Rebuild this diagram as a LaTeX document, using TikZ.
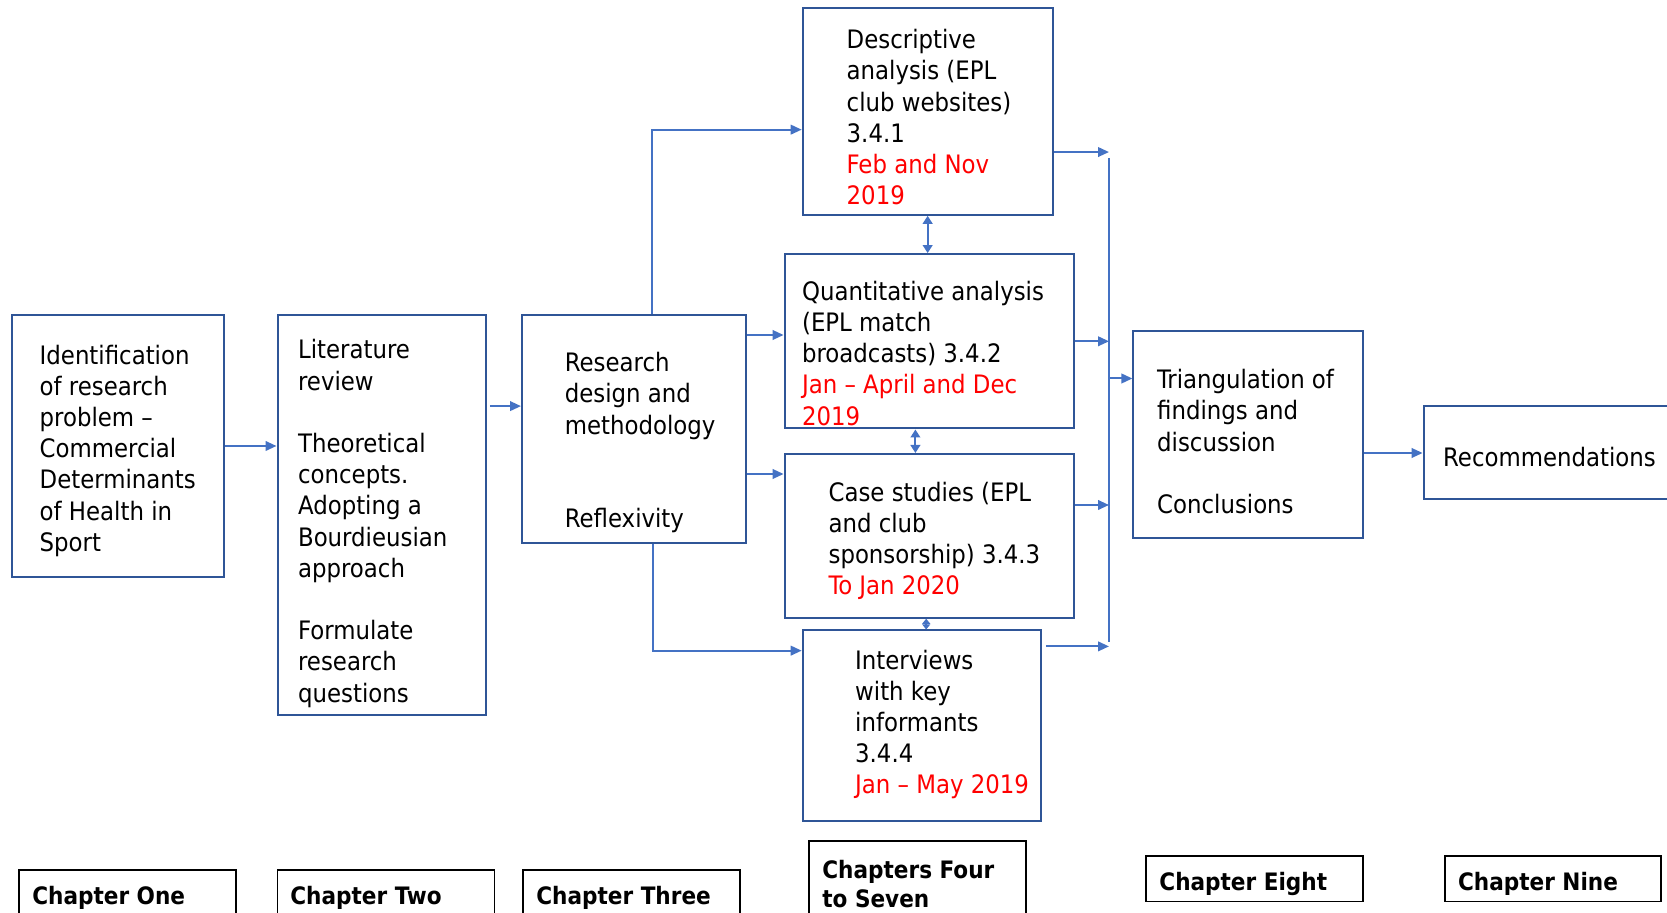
\documentclass[tikz,border=0pt]{standalone}
\usepackage{fontspec}
\setmainfont{DejaVu Sans Condensed}
\usetikzlibrary{arrows.meta,fit,calc}
\definecolor{boxblue}{RGB}{47,85,151}
\definecolor{lineblue}{RGB}{68,114,196}
\definecolor{datered}{RGB}{255,0,0}
\tikzset{
  box/.style={draw=boxblue, line width=1pt, inner sep=0pt},
  chapbox/.style={draw=black, line width=0.9pt, inner sep=0pt},
  txt/.style={anchor=west, align=left, inner sep=0pt, yshift=-1.5pt, font=\fontsize{12.7}{15.6}\selectfont},
  chtxt/.style={anchor=west, align=left, inner sep=0pt, yshift=-2pt, font=\bfseries\fontsize{12}{14.6}\selectfont},
  conn/.style={draw=lineblue, line width=1pt},
  arr/.style={conn, -{Triangle[length=5.5pt,width=4.8pt]}},
  darr/.style={conn, {Triangle[length=4pt,width=4.8pt]}-{Triangle[length=4pt,width=4.8pt]}},
  sdarr/.style={conn, {Triangle[length=2.6pt,width=4pt]}-{Triangle[length=2.6pt,width=4pt]}},
}
\newcommand{\dt}[1]{\textcolor{datered}{#1}}
\begin{document}
\begin{tikzpicture}[x=0.5pt,y=-0.5pt]
\useasboundingbox (0,0) rectangle (1667,913);
% main boxes
\node[box, fit={(11.7,314.7) (224.3,577.3)}] (b1) {};
\node[box, fit={(277.5,314.7) (485.9,715.5)}] (b2) {};
\node[box, fit={(522,314.7) (746.4,543.3)}] (b3) {};
\node[box, fit={(802.7,8.5) (1052.6,214.8)}] (b4) {};
\node[box, fit={(784.6,254.1) (1073.8,428.5)}] (b5) {};
\node[box, fit={(784.6,454) (1073.8,617.7)}] (b6) {};
\node[box, fit={(802.7,630.5) (1040.9,820.8)}] (b7) {};
\node[box, fit={(1133.4,330.7) (1363,538)}] (b8) {};
\node[box, fit={(1423.6,406.1) (1690,498.6)}] (b9) {};
% texts
\node[txt] (t1) at (39.3,447.6) {Identification\\of research\\problem –\\Commercial\\Determinants\\of Health in\\Sport};
\node[txt] (t2) at (297.7,520.4) {Literature\\review\\[15.6pt]Theoretical\\concepts.\\Adopting a\\Bourdieusian\\approach\\[15.6pt]Formulate\\research\\questions};
\node[txt] (t3) at (564.5,439.6) {Research\\design and\\methodology\\[31.2pt]Reflexivity};
\node[txt] (t4) at (846.3,114.3) {Descriptive\\analysis (EPL\\club websites)\\3.4.1\\\dt{Feb and Nov}\\\dt{2019}};
\node[txt] (t5) at (801.7,350.3) {Quantitative analysis\\(EPL match\\broadcasts) 3.4.2\\\dt{Jan – April and Dec}\\\dt{2019}};
\node[txt] (t6) at (828.2,538) {Case studies (EPL\\and club\\sponsorship) 3.4.3\\\dt{To Jan 2020}};
\node[txt] (t7) at (854.8,721.4) {Interviews\\with key\\informants\\3.4.4\\\dt{Jan – May 2019}};
\node[txt] (t8) at (1156.8,438.6) {Triangulation of\\findings and\\discussion\\[15.6pt]Conclusions};
\node[txt] (t9) at (1442.8,454) {Recommendations};
% chapter boxes
\node[chapbox, fit={(19,870) (236,930)}] (c1) {};
\node[chapbox, fit={(277.5,870) (494.4,930)}] (c2) {};
\node[chapbox, fit={(523,870) (740,930)}] (c3) {};
\node[chapbox, fit={(809,841) (1026,930)}] (c4) {};
\node[chapbox, fit={(1146,856) (1363,901.6)}] (c5) {};
\node[chapbox, fit={(1445,856) (1661,901.6)}] (c6) {};
\node[chtxt] (ct1) at (31.9,894) {Chapter One};
\node[chtxt] (ct2) at (290,894) {Chapter Two};
\node[chtxt] (ct3) at (536,894) {Chapter Three};
\node[chtxt] (ct4) at (822,879.8) {Chapters Four\\to Seven};
\node[chtxt] (ct5) at (1159,880.3) {Chapter Eight};
\node[chtxt] (ct6) at (1457.7,880.3) {Chapter Nine};
% bus
\coordinate (busT) at (1109,158);
\coordinate (busB) at (1109,642);
\draw[conn] (busT) -- (busB);
% connectors
\draw[arr] (b1.east) -- (b1.east -| b2.west);
\draw[arr] ($(b2.east)+(3,-109)$) -- ($(b2.east -| b3.west)+(0,-109)$);
\draw[arr] ($(b3.north)+(17.6,0)$) |- ($(b4.west)+(0,18)$);
\draw[arr] ($(b3.east)+(0,-94)$) -- ($(b3.east -| b5.west)+(0,-94)$);
\draw[arr] ($(b3.east)+(0,45)$) -- ($(b3.east -| b6.west)+(0,45)$);
\draw[arr] ($(b3.south)+(18.6,0)$) |- ($(b7.west)+(0,-75)$);
\draw[darr] (b4.south) -- (b4.south |- b5.north);
\draw[darr] ($(b5.south)+(-13.8,0)$) -- ($(b5.south |- b6.north)+(-13.8,0)$);
\draw[sdarr] ($(b6.south)+(-3,0)$) -- ($(b6.south |- b7.north)+(-3,0)$);
\draw[arr] ($(b4.east)+(0,40.4)$) -- ($(b4.east -| busT)+(0,40.4)$);
\draw[arr] (b5.east) -- (b5.east -| busT);
\draw[arr] ($(b6.east)+(0,-30.85)$) -- ($(b6.east -| busT)+(0,-30.85)$);
\draw[arr] ($(b7.east)+(4,-79.25)$) -- ($(b7.east -| busT)+(0,-79.25)$);
\draw[arr] ($(b8.west -| busT)+(0,-55.85)$) -- ($(b8.west)+(0,-55.85)$);
\draw[arr] ($(b8.east)+(0,18.65)$) -- ($(b8.east -| b9.west)+(0,18.65)$);
\end{tikzpicture}
\end{document}
